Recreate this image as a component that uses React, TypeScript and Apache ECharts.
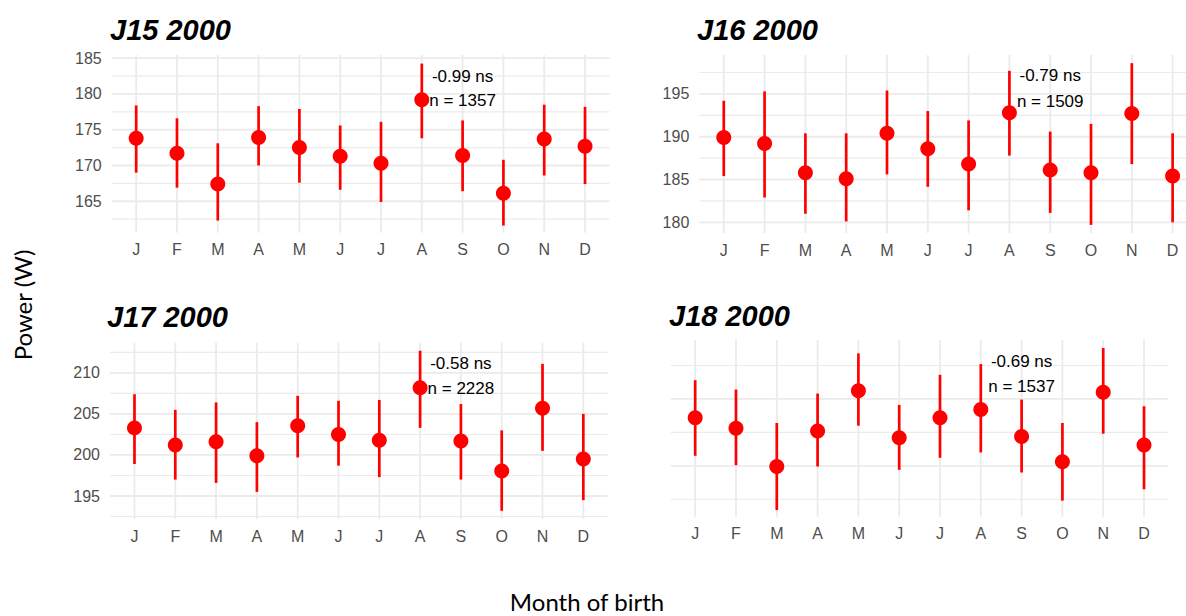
import React, { useEffect, useRef } from 'react';
import * as echarts from 'echarts';

// ---------- data ----------
const months = ['J', 'F', 'M', 'A', 'M', 'J', 'J', 'A', 'S', 'O', 'N', 'D'];

const j15Mean = [173.8, 171.7, 167.4, 173.9, 172.5, 171.3, 170.3, 179.2, 171.4, 166.1, 173.7, 172.7];
const j15Low = [169.0, 166.9, 162.3, 170.0, 167.6, 166.6, 164.9, 173.8, 166.4, 161.6, 168.6, 167.4];
const j15High = [178.4, 176.6, 173.1, 178.3, 177.9, 175.6, 176.1, 184.25, 176.3, 170.8, 178.5, 178.2];
const j15Ticks = [165, 170, 175, 180, 185];
const j15Minor = [162.5, 167.5, 172.5, 177.5, 182.5];
const j15Notes = ['-0.99 ns', 'n = 1357'];
const j15NoteY = [182.5, 179.15];

const j16Mean = [189.9, 189.2, 185.8, 185.1, 190.4, 188.6, 186.8, 192.8, 186.1, 185.8, 192.7, 185.4];
const j16Low = [185.4, 182.9, 181.0, 180.1, 185.6, 184.15, 181.4, 187.8, 181.1, 179.7, 186.8, 180.0];
const j16High = [194.2, 195.3, 190.4, 190.4, 195.4, 193.0, 191.9, 197.7, 190.6, 191.5, 198.6, 190.4];
const j16Ticks = [180, 185, 190, 195];
const j16Minor = [182.5, 187.5, 192.5, 197.5];
const j16Notes = ['-0.79 ns', 'n = 1509'];
const j16NoteY = [197.15, 194.14];

const j17Mean = [203.3, 201.2, 201.6, 199.9, 203.55, 202.5, 201.8, 208.2, 201.7, 198.05, 205.7, 199.5];
const j17Low = [198.9, 197.0, 196.6, 195.5, 199.7, 198.7, 197.3, 203.3, 197.0, 193.2, 200.5, 194.5];
const j17High = [207.4, 205.5, 206.4, 204.0, 207.2, 206.6, 206.7, 212.7, 206.2, 203.0, 211.1, 205.0];
const j17Ticks = [195, 200, 205, 210];
const j17Minor = [192.5, 197.5, 202.5, 207.5, 212.5];
const j17Notes = ['-0.58 ns', 'n = 2228'];
const j17NoteY = [211.2, 208.1];

const j18Mean = [213.6, 212.8, 209.95, 212.6, 215.6, 212.1, 213.6, 214.2, 212.2, 210.3, 215.5, 211.55];
const j18Low = [210.75, 210.05, 206.7, 209.95, 213.0, 209.7, 210.6, 211.0, 209.5, 207.4, 212.4, 208.25];
const j18High = [216.4, 215.7, 213.2, 215.4, 218.4, 214.55, 216.8, 217.6, 214.95, 213.2, 218.8, 214.45];
const j18Ticks = [210, 215];
const j18Minor = [207.5, 212.5, 217.5];
const j18Notes = ['-0.69 ns', 'n = 1537'];
const j18NoteY = [217.8, 215.9];

const noteX = 8;

// ---------- layout ----------
const panels = [
  { title: 'J15 2000', mean: j15Mean, low: j15Low, high: j15High, ticks: j15Ticks, minor: j15Minor, notes: j15Notes, noteY: j15NoteY,
    yMin: 160.6, yMax: 185.45, showY: true, grid: { left: 111.7, top: 55, width: 497.8, height: 177.7 }, titlePos: [110, 29.5] },
  { title: 'J16 2000', mean: j16Mean, low: j16Low, high: j16High, ticks: j16Ticks, minor: j16Minor, notes: j16Notes, noteY: j16NoteY,
    yMin: 178.75, yMax: 199.55, showY: true, grid: { left: 699.3, top: 55, width: 497.8, height: 178 }, titlePos: [697, 29.5] },
  { title: 'J17 2000', mean: j17Mean, low: j17Low, high: j17High, ticks: j17Ticks, minor: j17Minor, notes: j17Notes, noteY: j17NoteY,
    yMin: 192.2, yMax: 213.7, showY: true, grid: { left: 110, top: 342.5, width: 497.8, height: 176.5 }, titlePos: [107, 317] },
  { title: 'J18 2000', mean: j18Mean, low: j18Low, high: j18High, ticks: j18Ticks, minor: j18Minor, notes: j18Notes, noteY: j18NoteY,
    yMin: 206.2, yMax: 219.4, showY: false, grid: { left: 670.7, top: 340, width: 497.8, height: 176.7 }, titlePos: [669, 316] },
];

const FONT = '"Liberation Sans", Arial, Helvetica, sans-serif';
const GRID_COLOR = '#ebebeb';
const RED = '#ff0000';

export default function App() {
  const ref = useRef<HTMLDivElement>(null);

  useEffect(() => {
    if (!ref.current) return;
    const chart = echarts.init(ref.current, undefined, { renderer: 'svg' });

    const grids: any[] = [];
    const xAxes: any[] = [];
    const yAxes: any[] = [];
    const series: any[] = [];
    const graphics: any[] = [];

    panels.forEach((p, i) => {
      grids.push({ ...p.grid, containLabel: false, outerBoundsMode: 'none' });
      xAxes.push({
        type: 'value', gridIndex: i, min: -0.6, max: 11.6,
        axisLine: { show: false }, axisTick: { show: false }, splitLine: { show: false },
        axisLabel: {
          customValues: months.map((_, k) => k),
          formatter: (v: number) => months[Math.round(v)] ?? '',
          color: '#4d4d4d', fontSize: 16, fontFamily: FONT, margin: 9,
        },
      });
      yAxes.push({
        type: 'value', gridIndex: i, min: p.yMin, max: p.yMax,
        axisLine: { show: false }, axisTick: { show: false }, splitLine: { show: false },
        axisLabel: {
          show: p.showY, customValues: p.ticks,
          color: '#4d4d4d', fontSize: 16, fontFamily: FONT, margin: 10,
        },
      });

      // grid lines: [kind, value, width]  kind 0 = horizontal, 1 = vertical
      const gridData: any[] = [];
      p.minor.forEach((v) => gridData.push([0, v, 1.1]));
      p.ticks.forEach((v) => gridData.push([0, v, 1.8]));
      months.forEach((_, k) => gridData.push([1, k, 1.8]));

      series.push({
        type: 'custom', xAxisIndex: i, yAxisIndex: i, z: 0, silent: true, clip: false,
        data: gridData,
        dimensions: ['kind', 'v', 'w'],
        encode: { x: -1, y: -1 },
        renderItem: (params: any, api: any) => {
          const cs = params.coordSys;
          const kind = api.value(0);
          const v = api.value(1);
          const w = api.value(2);
          if (kind === 0) {
            const y = api.coord([0, v])[1];
            return {
              type: 'line',
              shape: { x1: cs.x, y1: y, x2: cs.x + cs.width, y2: y },
              style: { stroke: GRID_COLOR, lineWidth: w },
            };
          }
          const x = api.coord([v, p.yMin])[0];
          return {
            type: 'line',
            shape: { x1: x, y1: cs.y, x2: x, y2: cs.y + cs.height },
            style: { stroke: GRID_COLOR, lineWidth: w },
          };
        },
      });

      series.push({
        type: 'custom', xAxisIndex: i, yAxisIndex: i, z: 2, silent: true,
        data: p.mean.map((_, k) => [k, p.low[k], p.high[k]]),
        encode: { x: 0, y: [1, 2] },
        renderItem: (params: any, api: any) => {
          const x = api.value(0);
          const a = api.coord([x, api.value(1)]);
          const b = api.coord([x, api.value(2)]);
          return {
            type: 'line',
            shape: { x1: a[0], y1: a[1], x2: b[0], y2: b[1] },
            style: { stroke: RED, lineWidth: 2.7 },
          };
        },
      });

      series.push({
        type: 'scatter', xAxisIndex: i, yAxisIndex: i, z: 3, silent: true,
        symbol: 'circle', symbolSize: 15,
        itemStyle: { color: RED, opacity: 1 },
        data: p.mean.map((m, k) => [k, m]),
      });

      series.push({
        type: 'scatter', xAxisIndex: i, yAxisIndex: i, z: 4, silent: true,
        symbolSize: 0, itemStyle: { color: 'rgba(0,0,0,0)', opacity: 1 },
        data: p.notes.map((t, k) => ({ name: t, value: [noteX, p.noteY[k]] })),
        label: {
          show: true, position: 'inside', formatter: '{b}',
          color: '#000', fontSize: 17, fontFamily: FONT, opacity: 1,
        },
      });

      graphics.push({
        type: 'text', x: p.titlePos[0], y: p.titlePos[1],
        style: {
          text: p.title, fill: '#000',
          font: `italic bold 29px ${FONT}`,
          align: 'left', verticalAlign: 'middle',
          textAlign: 'left', textVerticalAlign: 'middle',
        },
      });
    });

    graphics.push({
      type: 'text', x: 22, y: 305, rotation: Math.PI / 2,
      style: {
        text: 'Power (W)', fill: '#000', font: `24px Lato, ${FONT}`,
        align: 'center', verticalAlign: 'middle', textAlign: 'center', textVerticalAlign: 'middle',
      },
    });
    graphics.push({
      type: 'text', x: 587, y: 601,
      style: {
        text: 'Month of birth', fill: '#000', font: `24px Lato, ${FONT}`,
        align: 'center', verticalAlign: 'middle', textAlign: 'center', textVerticalAlign: 'middle',
      },
    });

    chart.setOption({
      animation: false,
      backgroundColor: '#ffffff',
      grid: grids,
      xAxis: xAxes,
      yAxis: yAxes,
      series,
      graphic: graphics,
    });

    return () => chart.dispose();
  }, []);

  return (
    <div
      ref={ref}
      style={{ position: 'fixed', left: 0, top: 0, width: 1200, height: 616, background: '#fff' }}
    />
  );
}
